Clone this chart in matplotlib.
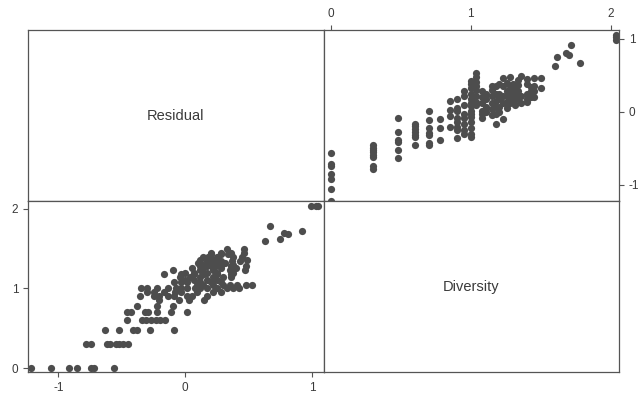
import matplotlib.pyplot as plt

plt.rcParams['font.family'] = ['Liberation Sans', 'DejaVu Sans']
plt.rcParams['axes.unicode_minus'] = False

# residual / diversity pairs
residual = [
    -1.22, -1.06, -0.92, -0.85, -0.74, -0.72, -0.56,
    -0.78, -0.74, -0.62, -0.59, -0.55, -0.52, -0.49, -0.45,
    -0.63, -0.52, -0.41, -0.38, -0.28, -0.09,
    -0.46, -0.34, -0.31, -0.27, -0.23, -0.20, -0.16,
    -0.46, -0.43, -0.32, -0.29, -0.22, -0.11, 0.01,
    -0.38, -0.22, -0.10,
    -0.21, -0.05, 0.03, 0.15,
    -0.36, -0.25, -0.21, -0.14, -0.09, 0.01, 0.05, 0.17,
    -0.30, -0.25, -0.17, -0.08, -0.03, 0.09, 0.22, 0.28,
    -0.35, -0.30, -0.22, -0.14, -0.07, -0.03, 0.01, 0.08, 0.12, 0.17, 0.25, 0.33, 0.38, 0.42,
    0.09, 0.14, 0.22, 0.30, 0.35, 0.41, 0.48, 0.53,
    -0.09, -0.03, 0.01, 0.12, 0.20, 0.28,
    0.00, 0.07, 0.17, 0.25,
    -0.04, 0.04, 0.12, 0.22, 0.30, 0.36,
    -0.17, -0.03, 0.07, 0.15, 0.25, 0.36,
    0.00, 0.07, 0.17, 0.25, 0.38,
    -0.10, 0.12, 0.22, 0.35, 0.47,
    0.05, 0.14, 0.22, 0.28, 0.40,
    0.12, 0.17, 0.24, 0.36, 0.48,
    0.14, 0.20, 0.28, 0.38,
    0.10, 0.18, 0.24, 0.31,
    0.17, 0.22, 0.28, 0.37, 0.43,
    0.12, 0.22, 0.49,
    0.14, 0.18, 0.25, 0.38, 0.45,
    0.20, 0.28, 0.34,
    0.20, 0.28, 0.36, 0.46,
    0.33, 0.46,
    0.63, 0.75, 0.81, 0.78, 0.92, 0.67,
    0.99, 1.05, 1.03,
]
diversity = (
    [0.00] * 7 + [0.30] * 8 + [0.48] * 6 + [0.60] * 7 + [0.70] * 7
    + [0.78] * 3 + [0.85] * 4 + [0.90] * 8 + [0.95] * 8 + [1.00] * 14
    + [1.04] * 8 + [1.08] * 6 + [1.11] * 4 + [1.15] * 6 + [1.18] * 6
    + [1.20] * 5 + [1.23] * 5 + [1.26] * 5 + [1.28] * 5 + [1.30] * 4
    + [1.32] * 4 + [1.34] * 5 + [1.36] * 3 + [1.40] * 5 + [1.43] * 3
    + [1.45] * 4 + [1.50] * 2
    + [1.60, 1.62, 1.68, 1.70, 1.72, 1.78]
    + [2.04] * 3
)

names = ['Residual', 'Diversity']

dot = '#4d4d4d'
edge = '#555555'
txt = '#3a3a3a'

fig, axes = plt.subplots(2, 2, figsize=(6.38, 3.96), dpi=100)
fig.subplots_adjust(left=28/638, right=619/638, top=1-30/396, bottom=1-372/396,
                    wspace=0, hspace=0)

for ax in axes.flat:
    for s in ax.spines.values():
        s.set_color(edge)
        s.set_linewidth(0.9)
    ax.tick_params(colors=edge, labelcolor=txt, labelsize=8.5, length=3.5, width=0.8)

# diagonal labels
for i, name in enumerate(names):
    ax = axes[i, i]
    ax.set_xticks([])
    ax.set_yticks([])
    ax.text(0.5, 0.5, name, transform=ax.transAxes, ha='center', va='center',
            fontsize=10.5, color=txt)

# bottom-left: residual vs diversity
ax = axes[1, 0]
ax.scatter(residual, diversity, s=27, color=dot, linewidths=0)
ax.set_xlim(-1.24, 1.09)
ax.set_ylim(-0.05, 2.10)
ax.set_xticks([-1, 0, 1])
ax.set_yticks([0, 1, 2])

# top-right: diversity vs residual
ax = axes[0, 1]
ax.scatter(diversity, residual, s=27, color=dot, linewidths=0)
ax.set_xlim(-0.05, 2.06)
ax.set_ylim(-1.22, 1.12)
ax.set_xticks([0, 1, 2])
ax.set_yticks([-1, 0, 1])
ax.xaxis.tick_top()
ax.yaxis.tick_right()

plt.savefig('out.png', dpi=100)
